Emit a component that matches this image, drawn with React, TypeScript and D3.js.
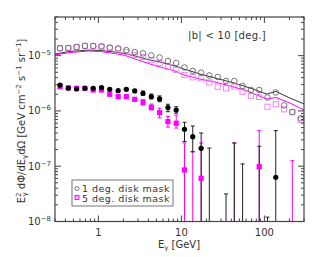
import React from "react";
import * as d3 from "d3";

const energies = [0.345, 0.434, 0.546, 0.688, 0.866, 1.09, 1.37, 1.73, 2.17, 2.74, 3.45, 4.34, 5.46, 6.88, 8.66, 10.9, 13.7, 17.3, 21.7, 27.4, 34.5, 43.4, 54.6, 68.8, 86.6, 109, 137, 173, 217, 274];

const total1 = [1.36e-5, 1.37e-5, 1.43e-5, 1.5e-5, 1.5e-5, 1.48e-5, 1.4e-5, 1.35e-5, 1.26e-5, 1.16e-5, 1.1e-5, 1.01e-5, 9.27e-6, 8.0e-6, 7.36e-6, 6.1e-6, 5.28e-6, 4.92e-6, 4.38e-6, 4.11e-6, 3.48e-6, 3.48e-6, 2.82e-6, 2.39e-6, 2.39e-6, 1.75e-6, 2.16e-6, 1.26e-6, 9.58e-7, 7.36e-7];
const total5 = [1.36e-5, 1.37e-5, 1.43e-5, 1.5e-5, 1.48e-5, 1.43e-5, 1.37e-5, 1.29e-5, 1.16e-5, 1.03e-5, 9.46e-6, 8.34e-6, 7.36e-6, 6.31e-6, 5.51e-6, 4.47e-6, 4.06e-6, 3.89e-6, 3.27e-6, 2.75e-6, 2.57e-6, 2.77e-6, 2.23e-6, 1.86e-6, 1.79e-6, 1.19e-6, 1.32e-6, 1.07e-6, 9.46e-7, 6.86e-7];

const resid1 = [2.94e-6, 2.57e-6, 2.49e-6, 2.57e-6, 2.57e-6, 2.65e-6, 2.46e-6, 2.32e-6, 2.46e-6, 2.3e-6, 2.09e-6, 1.81e-6, 1.65e-6, 1.15e-6, 1.04e-6, 4.66e-7, 3.42e-7, 2.11e-7, null, null, null, null, null, null, null, null, 6.31e-8, null, null, null];
const resid1Hi = [3.1e-6, 2.7e-6, 2.62e-6, 2.7e-6, 2.7e-6, 2.78e-6, 2.58e-6, 2.44e-6, 2.6e-6, 2.43e-6, 2.29e-6, 2.02e-6, 1.87e-6, 1.32e-6, 1.19e-6, 6.24e-7, 5.34e-7, 3.99e-7, 2.13e-7, null, 3.15e-8, 2.63e-7, 1.1e-7, null, 2.3e-7, 1.2e-8, 4.4e-7, null, null, null];
const resid1Lo = [2.8e-6, 2.45e-6, 2.37e-6, 2.45e-6, 2.45e-6, 2.52e-6, 2.34e-6, 2.2e-6, 2.33e-6, 2.17e-6, 1.9e-6, 1.65e-6, 1.47e-6, 9.7e-7, 9.1e-7, 2.79e-7, 1.81e-7, 0, 0, null, 0, 0, 0, null, 0, 0, 0, null, null, null];

const resid5 = [2.75e-6, 2.63e-6, 2.57e-6, 2.57e-6, 2.39e-6, 2.39e-6, 2.0e-6, 1.81e-6, 1.81e-6, 1.62e-6, 1.43e-6, 1.16e-6, 9.29e-7, 6.39e-7, 5.98e-7, 8.55e-8, null, 6.05e-8, null, null, null, null, null, null, 9.82e-8, null, null, null, null, null];
const resid5Hi = [2.9e-6, 2.76e-6, 2.7e-6, 2.7e-6, 2.52e-6, 2.52e-6, 2.12e-6, 1.93e-6, 1.93e-6, 1.75e-6, 1.6e-6, 1.33e-6, 1.12e-6, 7.9e-7, 8.4e-7, 2.63e-7, 1.85e-7, 2.63e-7, null, null, null, 2.63e-7, null, null, 4.4e-7, null, null, null, 1.26e-7, null];
const resid5Lo = [2.6e-6, 2.5e-6, 2.44e-6, 2.44e-6, 2.26e-6, 2.26e-6, 1.88e-6, 1.69e-6, 1.69e-6, 1.5e-6, 1.28e-6, 1.04e-6, 7.5e-7, 5.1e-7, 4.9e-7, 0, 0, 0, null, null, null, 0, null, null, 0, null, null, null, 0, null];

const modelE = [0.3, 0.455, 0.75, 1.05, 1.58, 2.09, 2.76, 4.19, 5.52, 8.37, 10.7, 16.7, 26.8, 43, 67, 107, 138, 203, 300];
const model1 = [1.07e-5, 1.19e-5, 1.26e-5, 1.24e-5, 1.16e-5, 1.09e-5, 9.86e-6, 8.34e-6, 7.67e-6, 6.5e-6, 5.74e-6, 4.66e-6, 3.86e-6, 3.2e-6, 2.6e-6, 2.02e-6, 2.25e-6, 1.71e-6, 1.34e-6];
const model5 = [1.03e-5, 1.14e-5, 1.21e-5, 1.19e-5, 1.09e-5, 1.01e-5, 8.69e-6, 7.06e-6, 6.24e-6, 5.28e-6, 4.47e-6, 3.78e-6, 3.27e-6, 2.71e-6, 2.2e-6, 1.64e-6, 1.75e-6, 1.39e-6, 1.04e-6];

const xMajor = [1, 10, 100];
const xMajorLabels = ["1", "10", "100"];
const yMajor = [1e-8, 1e-7, 1e-6, 1e-5];
const yMajorExp = ["\u22128", "\u22127", "\u22126", "\u22125"];
const legendLabels = ["1 deg. disk mask", "5 deg. disk mask"];
const annotation = "|b| < 10 [deg.]";

const W = 321, H = 257;
const L = 55, R = 304, T = 17, B = 221.5;
const FONT = "'DejaVu Sans', sans-serif";
const AX = "#444";
const TXT = "#333";
const MAG = "#ff00ff";
const MAGL = "#f27af2";
const GRAY = "#666";

export default function App() {
  const x = d3.scaleLog().domain([0.3, 300]).range([L, R]);
  const y = d3.scaleLog().domain([1e-8, 5e-5]).range([B, T]);
  const yc = (v: number) => (v <= 0 ? B : Math.min(B, y(v)));

  const xMinor: number[] = [];
  for (const dec of [0.1, 1, 10, 100]) for (let m = 2; m <= 9; m++) { const v = m * dec; if (v >= 0.3 && v <= 300) xMinor.push(v); }
  const yMinor: number[] = [];
  for (const dec of [1e-8, 1e-7, 1e-6, 1e-5]) for (let m = 2; m <= 9; m++) { const v = m * dec; if (v <= 5e-5) yMinor.push(v); }

  const line = d3.line<number>().x((d, i) => x(modelE[i])).y((d) => y(d));

  const errBars = (hi: (number | null)[], lo: (number | null)[], color: string, key: string) =>
    energies.map((e, i) => {
      if (hi[i] == null) return null;
      const cx = x(e);
      const y1 = yc(hi[i] as number);
      const y2 = yc(lo[i] as number);
      return (
        <g key={key + i} stroke={color} strokeWidth={1}>
          <line x1={cx} x2={cx} y1={y1} y2={y2} />
          <line x1={cx - 2} x2={cx + 2} y1={y1} y2={y1} />
          {y2 < B - 0.5 && <line x1={cx - 2} x2={cx + 2} y1={y2} y2={y2} />}
        </g>
      );
    });

  return (
    <svg width={W} height={H} style={{ position: "absolute", left: 0, top: 0, background: "#fff" }} fontFamily={FONT}>
      <defs>
        <clipPath id="plot"><rect x={L} y={T} width={R - L} height={B - T} /></clipPath>
      </defs>
      <g clipPath="url(#plot)">
        <path d={line(model1) || ""} fill="none" stroke="#333" strokeWidth={1} />
        <path d={line(model5) || ""} fill="none" stroke={MAG} strokeWidth={1} />
        {energies.map((e, i) => (
          <rect key={"s" + i} x={x(e) - 2.6} y={y(total5[i]) - 2.6} width={5.2} height={5.2} fill="none" stroke={MAGL} strokeWidth={0.9} />
        ))}
        {energies.map((e, i) => (
          <circle key={"c" + i} cx={x(e)} cy={y(total1[i])} r={2.8} fill="none" stroke={GRAY} strokeWidth={0.9} />
        ))}
        {errBars(resid5Hi, resid5Lo, MAG, "e5")}
        {errBars(resid1Hi, resid1Lo, "#222", "e1")}
        {energies.map((e, i) => resid5[i] == null ? null : (
          <rect key={"fs" + i} x={x(e) - 2.6} y={y(resid5[i] as number) - 2.6} width={5.2} height={5.2} fill={MAG} />
        ))}
        {energies.map((e, i) => resid1[i] == null ? null : (
          <circle key={"fc" + i} cx={x(e)} cy={y(resid1[i] as number)} r={2.6} fill="#000" />
        ))}
      </g>
      <rect x={L} y={T} width={R - L} height={B - T} fill="none" stroke={AX} strokeWidth={1.2} />
      {xMajor.map((v) => (
        <g key={"xm" + v} stroke={AX}>
          <line x1={x(v)} x2={x(v)} y1={B} y2={B - 6} />
          <line x1={x(v)} x2={x(v)} y1={T} y2={T + 6} />
        </g>
      ))}
      {xMinor.map((v) => (
        <g key={"xn" + v} stroke={AX}>
          <line x1={x(v)} x2={x(v)} y1={B} y2={B - 3} />
          <line x1={x(v)} x2={x(v)} y1={T} y2={T + 3} />
        </g>
      ))}
      {xMajor.map((v, i) => (
        <text key={"xl" + v} x={x(v)} y={236} fontSize={10} textAnchor="middle" fill={TXT}>{xMajorLabels[i]}</text>
      ))}
      {yMajor.map((v) => (
        <g key={"ym" + v} stroke={AX}>
          <line x1={L} x2={L + 6} y1={y(v)} y2={y(v)} />
          <line x1={R} x2={R - 6} y1={y(v)} y2={y(v)} />
        </g>
      ))}
      {yMinor.map((v) => (
        <g key={"yn" + v} stroke={AX}>
          <line x1={L} x2={L + 3} y1={y(v)} y2={y(v)} />
          <line x1={R} x2={R - 3} y1={y(v)} y2={y(v)} />
        </g>
      ))}
      {yMajor.map((v, i) => (
        <text key={"yl" + v} x={51} y={y(v) + 3.5} fontSize={10} textAnchor="end" fill={TXT}>
          10<tspan fontSize={7} dy={-4}>{yMajorExp[i]}</tspan>
        </text>
      ))}
      <text x={179} y={248} fontSize={10} textAnchor="middle" fill={TXT}>
        E<tspan fontSize={7} dy={2}>γ</tspan><tspan dy={-2}> [GeV]</tspan>
      </text>
      <text transform="translate(25,121) rotate(-90)" fontSize={10} textAnchor="middle" fill={TXT}>
        E<tspan fontSize={7} dy={-4}>2</tspan><tspan fontSize={7} dx={-4} dy={6}>γ</tspan>
        <tspan dy={-2}> dΦ/dE</tspan><tspan fontSize={7} dy={2}>γ</tspan>
        <tspan dy={-2}>dΩ [GeV cm</tspan><tspan fontSize={7} dy={-4}>−2</tspan>
        <tspan dy={4}> s</tspan><tspan fontSize={7} dy={-4}>−1</tspan>
        <tspan dy={4}> sr</tspan><tspan fontSize={7} dy={-4}>−1</tspan>
        <tspan dy={4}>]</tspan>
      </text>
      <text x={227} y={39} fontSize={10} textAnchor="middle" fill={TXT} letterSpacing={0.3}>{annotation}</text>
      <rect x={72} y={180} width={101} height={26} fill="#fff" stroke="#777" strokeWidth={1} />
      <circle cx={77} cy={188.5} r={2} fill="none" stroke={GRAY} strokeWidth={0.9} />
      <rect x={75} y={195.5} width={4} height={4} fill="#f7b0f7" stroke={MAG} strokeWidth={0.9} />
      {legendLabels.map((t, i) => (
        <text key={t} x={82} y={192 + i * 9.5} fontSize={9.5} fill={TXT} letterSpacing={0.45}>{t}</text>
      ))}
    </svg>
  );
}
